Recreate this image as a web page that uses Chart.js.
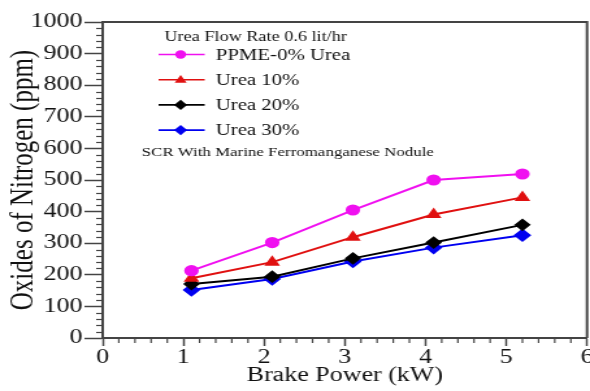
<!DOCTYPE html>
<html>
<head>
<meta charset="utf-8">
<script src="https://cdn.jsdelivr.net/npm/chart.js@4/dist/chart.umd.min.js"></script>
<style>
  html, body { margin: 0; padding: 0; background: #fff; }
</style>
</head>
<body>
<!-- the source picture is stretched sideways, so the bitmap is drawn narrow and widened -->
<canvas id="noxChart" width="454" height="391" style="display:block;width:590px;height:391px"></canvas>
<script>
// data
const brakePower = [1.1, 2.1, 3.1, 4.1, 5.2];
const ppme0 = [213, 302, 405, 500, 519];
const urea10 = [189, 240, 319, 391, 445];
const urea20 = [171, 194, 252, 302, 358];
const urea30 = [152, 187, 242, 286, 325];

const seriesLabels = ['PPME-0% Urea', 'Urea 10%', 'Urea 20%', 'Urea 30%'];
const legendTitle = 'Urea Flow Rate 0.6 lit/hr';
const legendNote = 'SCR With Marine Ferromanganese Nodule';

const SERIF = "'Liberation Serif', 'Times New Roman', serif";
const AXIS = '#444';

const pts = ys => brakePower.map((x, i) => ({ x: x, y: ys[i] }));

function makeSet(label, ys, color, style, r) {
    return {
        label: label,
        data: pts(ys),
        borderColor: color,
        backgroundColor: color,
        borderWidth: 2,
        pointStyle: style,
        pointRadius: r,
        pointBackgroundColor: color,
        pointBorderColor: color,
        tension: 0
    };
}

function marker(ctx, style, x, y, r) {
    ctx.beginPath();
    if (style === 'circle') {
        ctx.arc(x, y, r, 0, Math.PI * 2);
    } else if (style === 'triangle') {
        ctx.moveTo(x, y - r * 1.1);
        ctx.lineTo(x + r * 1.1, y + r * 0.7);
        ctx.lineTo(x - r * 1.1, y + r * 0.7);
        ctx.closePath();
    } else {
        ctx.moveTo(x, y - r * 1.2);
        ctx.lineTo(x + r * 1.2, y);
        ctx.lineTo(x, y + r * 1.2);
        ctx.lineTo(x - r * 1.2, y);
        ctx.closePath();
    }
    ctx.fill();
}

// minor ticks, box frame and the in-plot legend
const extras = {
    id: 'extras',
    afterDraw(chart) {
        const ctx = chart.ctx;
        const a = chart.chartArea;
        const xs = chart.scales.x, ys = chart.scales.y;
        ctx.save();
        ctx.strokeStyle = AXIS;
        ctx.lineWidth = 1.2;
        for (let v = 20; v < 1000; v += 20) {
            if (v % 100 === 0) continue;
            const py = Math.round(ys.getPixelForValue(v)) + 0.5;
            ctx.beginPath();
            ctx.moveTo(a.left - 5, py);
            ctx.lineTo(a.left, py);
            ctx.stroke();
        }
        for (let k = 1; k < 30; k++) {
            if (k % 5 === 0) continue;
            const px = xs.getPixelForValue(k / 5);
            ctx.beginPath();
            ctx.moveTo(px, a.bottom);
            ctx.lineTo(px, a.bottom + 5);
            ctx.stroke();
        }
        // top and right edges of the box
        ctx.lineWidth = 2;
        ctx.beginPath();
        ctx.moveTo(a.left, a.top);
        ctx.lineTo(a.right, a.top);
        ctx.lineTo(a.right, a.bottom);
        ctx.stroke();

        // legend
        ctx.fillStyle = '#111';
        ctx.textBaseline = 'middle';
        ctx.textAlign = 'left';
        ctx.font = '14px ' + SERIF;
        ctx.fillText(legendTitle, a.left + 47.5, a.top + 15.5);
        chart.data.datasets.forEach((ds, i) => {
            const y = a.top + 32.5 + i * 25.2;
            ctx.strokeStyle = ds.borderColor;
            ctx.fillStyle = ds.borderColor;
            ctx.lineWidth = 1.6;
            ctx.beginPath();
            ctx.moveTo(a.left + 43, y);
            ctx.lineTo(a.left + 78.5, y);
            ctx.stroke();
            marker(ctx, ds.pointStyle, a.left + 60, y, 4.2);
            ctx.fillStyle = '#111';
            ctx.font = '16px ' + SERIF;
            ctx.fillText(ds.label, a.left + 87, y + 1);
        });
        ctx.font = '13px ' + SERIF;
        ctx.fillText(legendNote, a.left + 30, a.top + 131);
        ctx.restore();
    }
};

new Chart(document.getElementById('noxChart'), {
    type: 'line',
    data: {
        datasets: [
            makeSet(seriesLabels[0], ppme0, '#f010f0', 'circle', 4.6),
            makeSet(seriesLabels[1], urea10, '#e01010', 'triangle', 5),
            makeSet(seriesLabels[2], urea20, '#000000', 'rectRot', 5),
            makeSet(seriesLabels[3], urea30, '#0000f0', 'rectRot', 5.4)
        ]
    },
    options: {
        responsive: false,
        devicePixelRatio: 1,
        animation: false,
        layout: { autoPadding: false, padding: { top: 22, right: 2.3, left: 0, bottom: 0 } },
        plugins: {
            legend: { display: false },
            tooltip: { enabled: false }
        },
        scales: {
            x: {
                type: 'linear',
                min: 0,
                max: 6,
                ticks: { stepSize: 1, color: '#111', padding: 0, font: { family: SERIF, size: 20 } },
                grid: { drawOnChartArea: false, tickLength: 8, tickColor: AXIS, tickWidth: 1.5 },
                border: { color: AXIS, width: 2 },
                title: { display: true, text: 'Brake Power (kW)', color: '#111',
                         font: { family: SERIF, size: 20, lineHeight: 1.2 }, padding: { top: 0, bottom: 3 } },
                afterFit(s) { s.height = 53; s.paddingLeft = 0; s.paddingRight = 0; }
            },
            y: {
                min: 0,
                max: 1000,
                ticks: { stepSize: 100, color: '#111', padding: 1.5, font: { family: SERIF, size: 20 },
                         callback: v => String(v) },
                grid: { drawOnChartArea: false, tickLength: 14, tickColor: AXIS, tickWidth: 1.5 },
                border: { color: AXIS, width: 2 },
                title: { display: true, text: 'Oxides of Nitrogen (ppm)', color: '#111',
                         font: { family: SERIF, size: 25, lineHeight: 1.2 }, padding: { top: 3.5, bottom: 0 } },
                afterFit(s) { s.width = 79; s.paddingTop = 0; s.paddingBottom = 0; }
            }
        }
    },
    plugins: [extras]
});
</script>
</body>
</html>
